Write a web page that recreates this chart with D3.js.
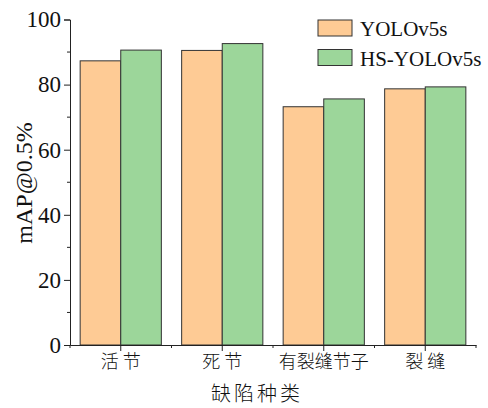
<!DOCTYPE html>
<html>
<head>
<meta charset="utf-8">
<script src="https://cdn.jsdelivr.net/npm/d3@7"></script>
<style>
  body { margin: 0; background: #fff; }
  svg text { fill: #111; }
</style>
</head>
<body>
<div id="chart"></div>
<script>
const categories = ["活 节", "死 节", "有裂缝节子", "裂 缝"];
const seriesNames = ["YOLOv5s", "HS-YOLOv5s"];
const yolo = [87.3, 90.5, 73.2, 78.7];
const hsYolo = [90.6, 92.6, 75.6, 79.3];
const yTicks = [0, 20, 40, 60, 80, 100];
const colors = ["#FECB95", "#9CD69A"];

const width = 488, height = 408;
const plotL = 70, plotR = 476, plotT = 19.5, plotB = 345;

const svg = d3.select("#chart").append("svg")
  .attr("width", width)
  .attr("height", height);

const x = d3.scaleBand()
  .domain(categories)
  .range([plotL, plotR])
  .paddingInner(0.2)
  .paddingOuter(0.1);

const xSub = d3.scaleBand()
  .domain(seriesNames)
  .range([0, x.bandwidth()]);

const y = d3.scaleLinear()
  .domain([0, 100])
  .range([plotB, plotT]);

const rows = categories.map((c, i) => ({ cat: c, vals: [yolo[i], hsYolo[i]] }));

// bars
const groups = svg.selectAll("g.grp")
  .data(rows)
  .enter().append("g")
  .attr("class", "grp")
  .attr("transform", d => `translate(${x(d.cat)},0)`);

groups.selectAll("rect")
  .data(d => d.vals.map((v, j) => ({ name: seriesNames[j], v: v, j: j })))
  .enter().append("rect")
  .attr("x", d => xSub(d.name))
  .attr("y", d => y(d.v))
  .attr("width", xSub.bandwidth())
  .attr("height", d => plotB - y(d.v))
  .attr("fill", d => colors[d.j])
  .attr("stroke", "#333")
  .attr("stroke-width", 1);

// y axis
const yAxis = svg.append("g")
  .attr("transform", `translate(${plotL},0)`)
  .call(d3.axisLeft(y).tickValues(yTicks).tickSize(6).tickPadding(3));
yAxis.select(".domain").attr("stroke", "#222");
yAxis.selectAll(".tick line").attr("stroke", "#222");
yAxis.selectAll("text")
  .attr("font-family", "'Liberation Serif', 'Times New Roman', serif")
  .attr("font-size", 23)
  .attr("fill", "#111");

// minor y ticks
svg.append("g").selectAll("line")
  .data(d3.range(10, 100, 20))
  .enter().append("line")
  .attr("x1", plotL - 3).attr("x2", plotL)
  .attr("y1", d => y(d)).attr("y2", d => y(d))
  .attr("stroke", "#222");

// x axis
const xAxis = svg.append("g")
  .attr("transform", `translate(0,${plotB})`)
  .call(d3.axisBottom(x).tickSize(6).tickSizeOuter(0).tickPadding(4));
xAxis.select(".domain").attr("stroke", "#222");
xAxis.selectAll(".tick line").attr("stroke", "#222");
xAxis.selectAll("text")
  .attr("font-family", "'Noto Sans CJK SC', sans-serif")
  .attr("font-size", 18)
  .attr("font-weight", 300)
  .attr("fill", "#222");

// minor x ticks at category boundaries
const bounds = [plotL].concat(categories.slice(1).map(c => x(c) - x.step() * x.paddingInner() / 2)).concat([plotR]);
svg.append("g").selectAll("line")
  .data(bounds)
  .enter().append("line")
  .attr("x1", d => d).attr("x2", d => d)
  .attr("y1", plotB).attr("y2", plotB + 3)
  .attr("stroke", "#222");

// axis titles
svg.append("text")
  .attr("transform", `translate(32,183) rotate(-90)`)
  .attr("text-anchor", "middle")
  .attr("font-family", "'Liberation Serif', 'Times New Roman', serif")
  .attr("font-size", 24)
  .text("mAP@0.5%");

svg.append("text")
  .attr("x", 257)
  .attr("y", 401)
  .attr("text-anchor", "middle")
  .attr("font-family", "'Noto Sans CJK SC', sans-serif")
  .attr("font-size", 20)
  .attr("font-weight", 300)
  .attr("letter-spacing", 3)
  .text("缺陷种类");

// legend
const legend = svg.append("g").attr("transform", "translate(318,20)");
const items = legend.selectAll("g")
  .data(seriesNames)
  .enter().append("g")
  .attr("transform", (d, i) => `translate(0,${i * 29.5})`);
items.append("rect")
  .attr("width", 34).attr("height", 16)
  .attr("fill", (d, i) => colors[i])
  .attr("stroke", "#333");
items.append("text")
  .attr("x", 42).attr("y", 16)
  .attr("font-family", "'Liberation Serif', 'Times New Roman', serif")
  .attr("font-size", 21)
  .text(d => d);
</script>
</body>
</html>
